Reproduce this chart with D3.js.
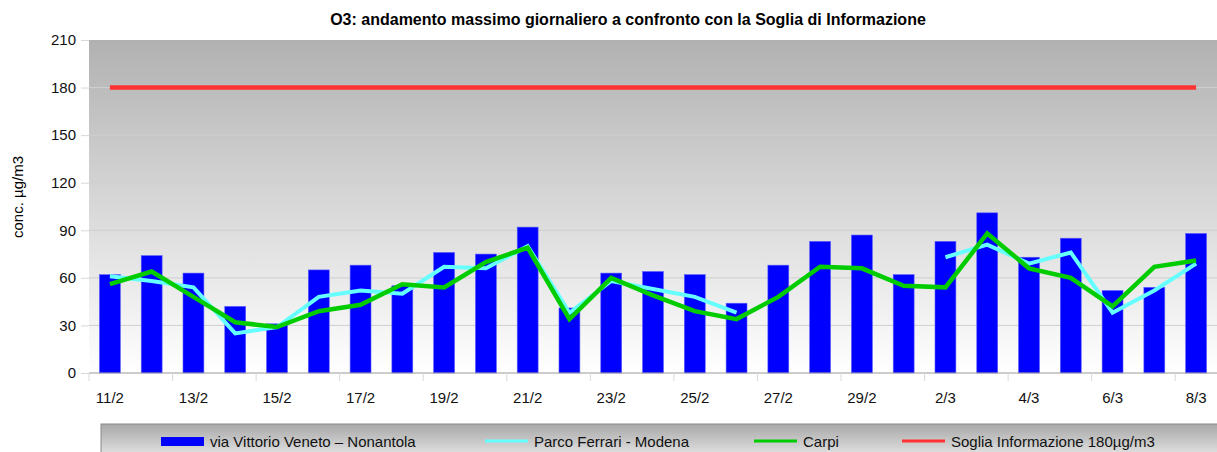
<html>
<head>
  <title> O3 andamento massimo giornaliero </title>
  <script src="https://d3js.org/d3.v7.min.js"></script>
  <style>
    body{
        margin: 0;
        background: white;
        font-family: "Liberation Sans", Arial, sans-serif;
    }
    .axis text{
        font-size: 15px;
        fill: #111;
    }
  </style>
</head>
<body>
    <svg id="chart" height="452" width="1217"> </svg>
    <script>

        // data
        const days = ["11/2","12/2","13/2","14/2","15/2","16/2","17/2","18/2","19/2","20/2",
                      "21/2","22/2","23/2","24/2","25/2","26/2","27/2","28/2","29/2",
                      "1/3","2/3","3/3","4/3","5/3","6/3","7/3","8/3"];
        const nonantola = [62,74,63,42,31,65,68,55,76,75,92,41,63,64,62,44,68,83,87,62,83,101,73,85,52,54,88];
        const parcoFerrari = [61,58,54,25,29,48,52,50,67,66,80,38,58,53,48,38,null,null,null,null,73,81,69,76,38,52,69];
        const carpi = [56,64,48,32,29,39,43,56,54,70,79,34,60,49,39,34,48,67,66,55,54,88,66,60,42,67,71];
        const soglia = 180;
        const yTicks = [0,30,60,90,120,150,180,210];

        let svg = d3.select("#chart");
        let margins = {top: 40, right: 0, bottom: 79, left: 89};
        let width = 1217 - margins.left - margins.right;
        let height = 452 - margins.top - margins.bottom;

        let defs = svg.append("defs");
        let bg = defs.append("linearGradient").attr("id","bg").attr("x1",0).attr("y1",0).attr("x2",0).attr("y2",1);
        bg.append("stop").attr("offset","0%").attr("stop-color","#b1b1b1");
        bg.append("stop").attr("offset","100%").attr("stop-color","#ffffff");
        let lg = defs.append("linearGradient").attr("id","lg").attr("x1",0).attr("y1",0).attr("x2",0).attr("y2",1);
        lg.append("stop").attr("offset","0%").attr("stop-color","#a8a8a8");
        lg.append("stop").attr("offset","100%").attr("stop-color","#f2f2f2");

        const xScale = d3.scaleBand().domain(days).range([0,width]).paddingInner(0).paddingOuter(0);
        const yScale = d3.scaleLinear().domain([0,210]).range([height,0]);

        let plot = svg.append("g").attr("transform",`translate(${margins.left},${margins.top})`);

        plot.append("rect").attr("width",width).attr("height",height).attr("fill","url(#bg)");

        // gridlines
        plot.append("g").attr("class","gridlines")
            .selectAll("line").data(yTicks.filter(d => d > 0 && d < 210)).join("line")
            .attr("x1",0).attr("x2",width)
            .attr("y1",d => yScale(d)).attr("y2",d => yScale(d))
            .attr("stroke","#cfcfcf").attr("stroke-width",1);

        // y axis
        let leftAxis = d3.axisLeft(yScale).tickValues(yTicks).tickSize(8).tickPadding(5);
        let yAxis = plot.append("g").attr("class","axis").call(leftAxis);
        yAxis.select(".domain").remove();
        yAxis.selectAll(".tick line").attr("stroke","#d8d8d8");

        // bars
        let bw = xScale.bandwidth() * 0.5;
        plot.append("g").selectAll("rect").data(nonantola).join("rect")
            .attr("x",(d,i) => xScale(days[i]) + (xScale.bandwidth()-bw)/2)
            .attr("y",d => yScale(d))
            .attr("width",bw)
            .attr("height",d => height - yScale(d))
            .attr("fill","#0000ff")
            .attr("stroke","#5a5aff").attr("stroke-width",0.6);

        // x axis
        let cx = d => xScale(d) + xScale.bandwidth()/2;
        plot.append("line").attr("x1",0).attr("x2",width).attr("y1",height).attr("y2",height)
            .attr("stroke","#9a9a9a").attr("stroke-width",1.2);
        let xAx = plot.append("g").attr("class","axis");
        xAx.selectAll("line").data(days.filter((d,i) => i % 2 == 0)).join("line")
            .attr("x1",d => xScale(d)).attr("x2",d => xScale(d))
            .attr("y1",height).attr("y2",height+8)
            .attr("stroke","#d8d8d8");
        xAx.selectAll("text").data(days.filter((d,i) => i % 2 == 0)).join("text")
            .attr("x",d => cx(d)).attr("y",height+30)
            .attr("text-anchor","middle")
            .text(d => d);

        // lines
        let line = d3.line().defined(d => d.v != null).x(d => cx(d.day)).y(d => yScale(d.v));
        plot.append("path")
            .attr("d",line(parcoFerrari.map((v,i) => ({day: days[i], v: v}))))
            .attr("fill","none").attr("stroke","#66ffff").attr("stroke-width",4);
        plot.append("path")
            .attr("d",line(carpi.map((v,i) => ({day: days[i], v: v}))))
            .attr("fill","none").attr("stroke","#00cc00").attr("stroke-width",4.5);
        plot.append("path")
            .attr("d",line(days.map(d => ({day: d, v: soglia}))))
            .attr("fill","none").attr("stroke","#ff3333").attr("stroke-width",4.5);

        // title
        svg.append("text").attr("x",628).attr("y",25)
            .attr("text-anchor","middle")
            .style("font-size","16px").style("font-weight","bold")
            .text("O3: andamento massimo giornaliero a confronto con la Soglia di Informazione");

        svg.append("text")
            .attr("transform","translate(23,197) rotate(-90)")
            .attr("text-anchor","middle")
            .style("font-size","15px")
            .text("conc. µg/m3");

        // legend
        let legend = svg.append("g");
        legend.append("rect").attr("x",101).attr("y",424).attr("width",1130).attr("height",40)
            .attr("fill","url(#lg)").attr("stroke","#8a8a8a").attr("stroke-width",1);
        const legendItems = [
            {name: "via Vittorio Veneto – Nonantola", color: "#0000ff", type: "bar", x: 161},
            {name: "Parco Ferrari - Modena", color: "#66ffff", type: "line", x: 485},
            {name: "Carpi", color: "#00cc00", type: "line", x: 754},
            {name: "Soglia Informazione 180µg/m3", color: "#ff3333", type: "line", x: 902}
        ];
        legendItems.forEach(it => {
            if (it.type == "bar") {
                legend.append("rect").attr("x",it.x).attr("y",437).attr("width",43).attr("height",9).attr("fill",it.color);
            } else {
                legend.append("line").attr("x1",it.x).attr("x2",it.x+43).attr("y1",441).attr("y2",441)
                    .attr("stroke",it.color).attr("stroke-width",3);
            }
            legend.append("text").attr("x",it.x+49).attr("y",447)
                .style("font-size","15px").attr("fill","#111")
                .text(it.name);
        });

    </script>
</body>
</html>
